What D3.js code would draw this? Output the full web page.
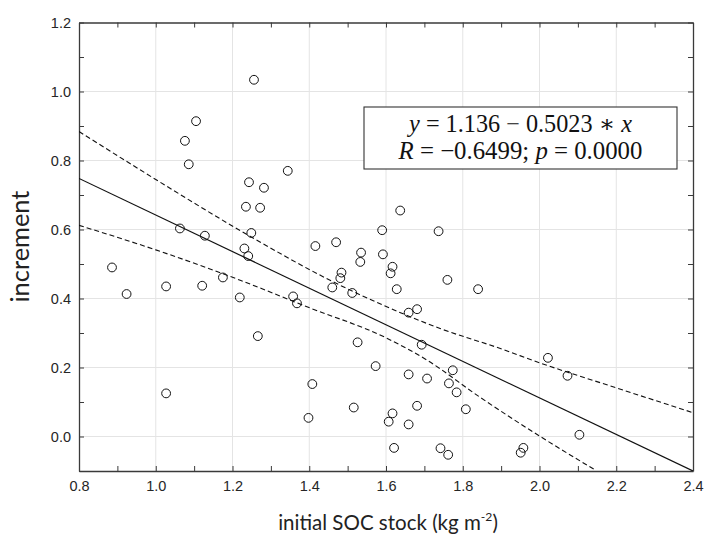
<!DOCTYPE html>
<html><head><meta charset="utf-8">
<script src="https://cdn.jsdelivr.net/npm/d3@7"></script>
<style>body{margin:0;background:#fff}</style>
</head><body>
<svg id="c" width="705" height="534"></svg>
<script>
// ---- data ----
const socStock = [1.256,1.105,1.076,1.086,1.243,1.282,1.235,1.272,1.063,1.128,1.249,1.231,1.241,1.344,1.637,1.590,1.737,1.416,1.470,1.535,1.533,1.592,1.617,1.612,1.484,1.481,1.460,1.512,1.628,1.760,1.840,1.358,1.368,1.659,1.681,1.266,1.526,1.693,1.573,1.774,1.659,1.707,1.764,1.784,1.408,1.808,1.516,1.681,1.398,1.617,1.607,1.659,1.621,1.742,1.762,2.022,2.073,2.104,1.958,1.951,0.886,0.924,1.027,1.121,1.175,1.219,1.027];
const increment = [1.034,0.914,0.857,0.789,0.737,0.721,0.666,0.663,0.603,0.582,0.590,0.545,0.523,0.770,0.655,0.598,0.595,0.552,0.563,0.533,0.506,0.528,0.492,0.473,0.475,0.459,0.432,0.416,0.427,0.454,0.427,0.406,0.386,0.359,0.369,0.291,0.273,0.266,0.204,0.192,0.180,0.168,0.154,0.128,0.152,0.079,0.084,0.089,0.054,0.067,0.043,0.035,-0.033,-0.034,-0.053,0.228,0.176,0.005,-0.033,-0.047,0.490,0.413,0.435,0.437,0.461,0.403,0.125];
const fitX = [0.8, 2.4];
const fitY = [0.748, -0.100];
const upperX = [0.8, 1.0, 1.22, 1.463, 1.602, 1.741, 1.898, 2.002, 2.2, 2.4];
const upperY = [0.884, 0.745, 0.597, 0.448, 0.376, 0.313, 0.255, 0.213, 0.141, 0.069];
const lowerX = [0.8, 1.0, 1.22, 1.394, 1.602, 1.706, 1.846, 2.002, 2.145];
const lowerY = [0.612, 0.541, 0.453, 0.376, 0.285, 0.222, 0.113, 0.0, -0.097];
const xTickValues = [0.8,0.9,1.0,1.1,1.2,1.3,1.4,1.5,1.6,1.7,1.8,1.9,2.0,2.1,2.2,2.3,2.4];
const yTickValues = [-0.1,0.0,0.1,0.2,0.3,0.4,0.5,0.6,0.7,0.8,0.9,1.0,1.1,1.2];
const xLabelTicks = [0.8,1.0,1.2,1.4,1.6,1.8,2.0,2.2,2.4];
const yLabelTicks = [0.0,0.2,0.4,0.6,0.8,1.0,1.2];
const xTitle = ["initial SOC stock (kg m", "-2", ")"];
const yTitle = "increment";
const eqLine1 = [["y", true], [" = 1.136 \u2212 0.5023 \u2217 ", false], ["x", true]];
const eqLine2 = [["R", true], [" = \u22120.6499; ", false], ["p", true], [" = 0.0000", false]];

// ---- layout ----
const svg = d3.select("#c");
const L = 79, R = 693, T = 22.5, B = 471;
const x = d3.scaleLinear().domain([0.8, 2.4]).range([L, R]);
const y = d3.scaleLinear().domain([-0.1, 1.2]).range([B, T]);
const isLab = (arr, v) => arr.some(a => Math.abs(a - v) < 1e-9);

svg.append("defs").append("clipPath").attr("id", "clip")
  .append("rect").attr("x", L).attr("y", T).attr("width", R - L).attr("height", B - T);

// grid
const grid = svg.append("g").attr("stroke", "#e4e4e4").attr("stroke-width", 1);
grid.selectAll(".gx").data(xLabelTicks.slice(1, -1)).join("line")
  .attr("x1", d => x(d)).attr("x2", d => x(d)).attr("y1", T).attr("y2", B);
grid.selectAll(".gy").data(yLabelTicks.slice(0, -1)).join("line")
  .attr("y1", d => y(d)).attr("y2", d => y(d)).attr("x1", L).attr("x2", R);

// axes
const fmt = d => d.toFixed(1);
function styleAxis(g) {
  g.attr("font-family", "'Liberation Sans', Arial, sans-serif");
  g.selectAll(".domain").attr("stroke", "#3a3a3a").attr("stroke-width", 1.3);
  g.selectAll(".tick line").attr("stroke", "#3a3a3a").attr("stroke-width", 1);
  g.selectAll("text").attr("font-family", "'Liberation Sans', Arial, sans-serif")
    .attr("font-size", 14.5).attr("fill", "#262626");
}
svg.append("g").attr("transform", `translate(0,${B})`)
  .call(d3.axisBottom(x).tickValues(xTickValues).tickSize(-5).tickSizeOuter(0).tickPadding(10)
    .tickFormat(d => isLab(xLabelTicks, d) ? fmt(d) : ""))
  .call(styleAxis);
svg.append("g").attr("transform", `translate(${L},0)`)
  .call(d3.axisLeft(y).tickValues(yTickValues).tickSize(-5).tickSizeOuter(0).tickPadding(8)
    .tickFormat(d => isLab(yLabelTicks, d) ? fmt(d) : ""))
  .call(styleAxis);
svg.append("g").attr("transform", `translate(0,${T})`)
  .call(d3.axisTop(x).tickValues(xTickValues).tickSize(-5).tickSizeOuter(0).tickFormat(""))
  .call(styleAxis);
svg.append("g").attr("transform", `translate(${R},0)`)
  .call(d3.axisRight(y).tickValues(yTickValues).tickSize(-5).tickSizeOuter(0).tickFormat(""))
  .call(styleAxis);

// lines
const plot = svg.append("g").attr("clip-path", "url(#clip)");
const line = d3.line().x(d => x(d[0])).y(d => y(d[1]));
const curve = d3.line().x(d => x(d[0])).y(d => y(d[1])).curve(d3.curveMonotoneX);
plot.append("path").datum(fitX.map((v, i) => [v, fitY[i]]))
  .attr("d", line).attr("fill", "none").attr("stroke", "#111").attr("stroke-width", 1.2);
[[upperX, upperY], [lowerX, lowerY]].forEach(([bx, by]) => {
  plot.append("path").datum(bx.map((v, i) => [v, by[i]]))
    .attr("d", curve).attr("fill", "none").attr("stroke", "#111")
    .attr("stroke-width", 1.1).attr("stroke-dasharray", "5,3");
});

// points
svg.append("g").selectAll("circle").data(socStock.map((v, i) => [v, increment[i]])).join("circle")
  .attr("cx", d => x(d[0])).attr("cy", d => y(d[1])).attr("r", 4.4)
  .attr("fill", "none").attr("stroke", "#111").attr("stroke-width", 1);

// equation box
const bx0 = 364, bx1 = 677, by0 = 107, by1 = 169, cx = (bx0 + bx1) / 2;
svg.append("rect").attr("x", bx0).attr("y", by0).attr("width", bx1 - bx0).attr("height", by1 - by0)
  .attr("fill", "#fff").attr("stroke", "#333").attr("stroke-width", 1.1);
function eq(parts, baseline, target) {
  const t = svg.append("text").attr("x", cx).attr("y", baseline).attr("text-anchor", "middle")
    .attr("font-family", "'Liberation Serif', 'DejaVu Serif', serif").attr("font-size", 22).attr("fill", "#111")
    .attr("xml:space", "preserve");
  parts.forEach(([s, it]) => t.append("tspan").attr("font-style", it ? "italic" : "normal").text(s));
  const w = t.node().getComputedTextLength();
  t.attr("font-size", 22 * target / w);
}
eq(eqLine1, 132, 223);
eq(eqLine2, 158.5, 244);

// axis titles
const tf = "Lato, 'Open Sans', sans-serif";
const xt = svg.append("text").attr("x", 388).attr("y", 530).attr("text-anchor", "middle")
  .attr("font-family", tf).attr("font-size", 22).attr("fill", "#222");
xt.append("tspan").text(xTitle[0]);
const sup = xt.append("tspan").attr("font-size", 13).attr("dy", -9).text(xTitle[1]);
xt.append("tspan").attr("dy", 9).text(xTitle[2]);
const xs = 220 / xt.node().getComputedTextLength();
xt.attr("font-size", 22 * xs);
sup.attr("font-size", 13 * xs);

const yt = svg.append("text").attr("transform", "translate(29,246.5) rotate(-90)").attr("text-anchor", "middle")
  .attr("font-family", tf).attr("font-size", 22).attr("fill", "#222").text(yTitle);
yt.attr("font-size", 22 * 112 / yt.node().getComputedTextLength());
</script>
</body></html>
